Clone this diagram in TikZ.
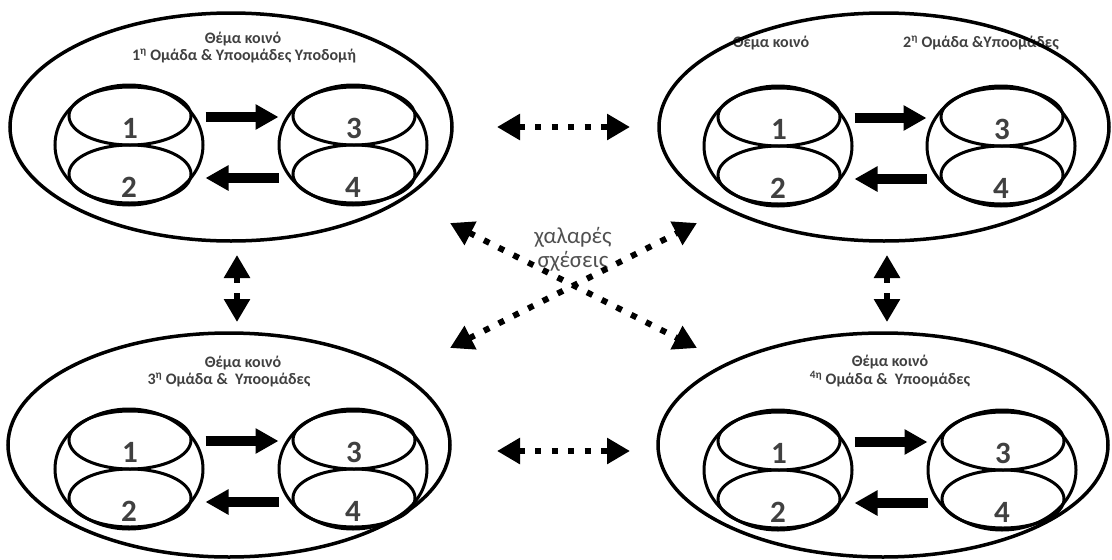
\documentclass[tikz,border=0pt]{standalone}
\usepackage{fontspec}
\setmainfont{Carlito}
\usetikzlibrary{shapes.geometric,arrows.meta}
\definecolor{txtgray}{HTML}{404040}
\definecolor{midgray}{HTML}{505050}
\tikzset{
  bigell/.style={ellipse, draw, line width=3.5pt, inner sep=0pt},
  barrelo/.style={ellipse, draw, line width=3pt, inner sep=0pt, minimum width=148pt, minimum height=120pt},
  barreli/.style={ellipse, draw, line width=3pt, inner sep=0pt, minimum width=122pt, minimum height=58pt},
  num/.style={font=\fontsize{31}{31}\selectfont\bfseries, text=txtgray, inner sep=0pt},
  ttl/.style={font=\fontsize{16}{18}\selectfont\bfseries, text=txtgray, inner sep=0pt},
  solidarr/.style={line width=10pt, -{Triangle[length=23pt,width=24pt]}},
  dotarr/.style={line width=6pt, dash pattern=on 6pt off 10.5pt, {Triangle[length=23pt,width=25pt]}-{Triangle[length=23pt,width=25pt]}},
  loose/.style={font=\fontsize{23}{25}\selectfont, text=midgray, inner sep=0pt}
}
\newcommand\mybarrel[5]{%
  \node[barrelo] (#1) at (#2,#3) {};
  \node[barreli] (#1t) at (#2+1,#3-29) {};
  \node[barreli] (#1b) at (#2+1,#3+29) {};
  \node[num] (#1n1) at (#2+1,#3-17) {#4};
  \node[num] (#1n2) at (#2,#3+42) {#5};
}
\newcommand\mygroup[5]{% name, cx, cy, rx, ry
  \node[bigell, minimum width=2*#4 pt, minimum height=2*#5 pt] (#1) at (#2,#3) {};
}
\newcommand\myinner[4]{% name, Lx, Rx, y
  \mybarrel{#1L}{#2}{#4}{1}{2}
  \mybarrel{#1R}{#3}{#4}{3}{4}
  \draw[solidarr] ([xshift=13pt,yshift=-1pt]#1Lt.east) -- ([xshift=-13pt,yshift=-1pt]#1Rt.west);
  \draw[solidarr] ([xshift=-13pt,yshift=-4pt]#1Rb.west) -- ([xshift=13pt,yshift=-4pt]#1Lb.east);
}
\begin{document}
\begin{tikzpicture}[x=1pt,y=-1pt]
\useasboundingbox (0,0) rectangle (1112,560);
% titles
\node[ttl] (tlA) at (243,39) {Θέμα κοινό};
\node[ttl] (tlB) at (244,56) {1\textsuperscript{η} Ομάδα \& Υποομάδες Υποδομή};
\node[ttl] (trA) at (771,43) {Θέμα κοινό};
\node[ttl] (trB) at (981,43) {2\textsuperscript{η} Ομάδα \&Υποομάδες};
\node[ttl] (blA) at (243,363) {Θέμα κοινό};
\node[ttl] (blB) at (229,380) {3\textsuperscript{η} Ομάδα \&\ \ Υποομάδες};
\node[ttl] (brA) at (890,362) {Θέμα κοινό};
\node[ttl] (brB) at (890,379) {\textsuperscript{4η} Ομάδα \&\ \ Υποομάδες};
% big ellipses
\mygroup{TL}{231}{127}{221}{114}
\mygroup{TR}{884}{127}{225}{114}
\mygroup{BL}{229}{445}{221}{112}
\mygroup{BR}{883}{445}{225}{112}
% inner structures
\myinner{TL}{129}{353}{145}
\myinner{TR}{778}{1001}{146}
\myinner{BL}{129}{353}{469}
\myinner{BR}{778}{1002}{470}
% loose relations text
\node[loose] (lz1) at (573,237) {χαλαρές};
\node[loose] (lz2) at (573,261) {σχέσεις};
% dotted connectors
\coordinate (h1a) at (497,127);
\coordinate (h1b) at (630,127);
\coordinate (h2a) at (497,451);
\coordinate (h2b) at (630,451);
\coordinate (v1a) at (237,255);
\coordinate (v1b) at (237,322);
\coordinate (v2a) at (887,255);
\coordinate (v2b) at (887,322);
\coordinate (d1a) at (450,223);
\coordinate (d1b) at (697,348);
\coordinate (d2a) at (450,348);
\coordinate (d2b) at (697,223);
\draw[dotarr] (h1a) -- (h1b);
\draw[dotarr] (h2a) -- (h2b);
\draw[dotarr] (v1a) -- (v1b);
\draw[dotarr] (v2a) -- (v2b);
\draw[dotarr] (d1a) -- (d1b);
\draw[dotarr] (d2a) -- (d2b);
\end{tikzpicture}
\end{document}
